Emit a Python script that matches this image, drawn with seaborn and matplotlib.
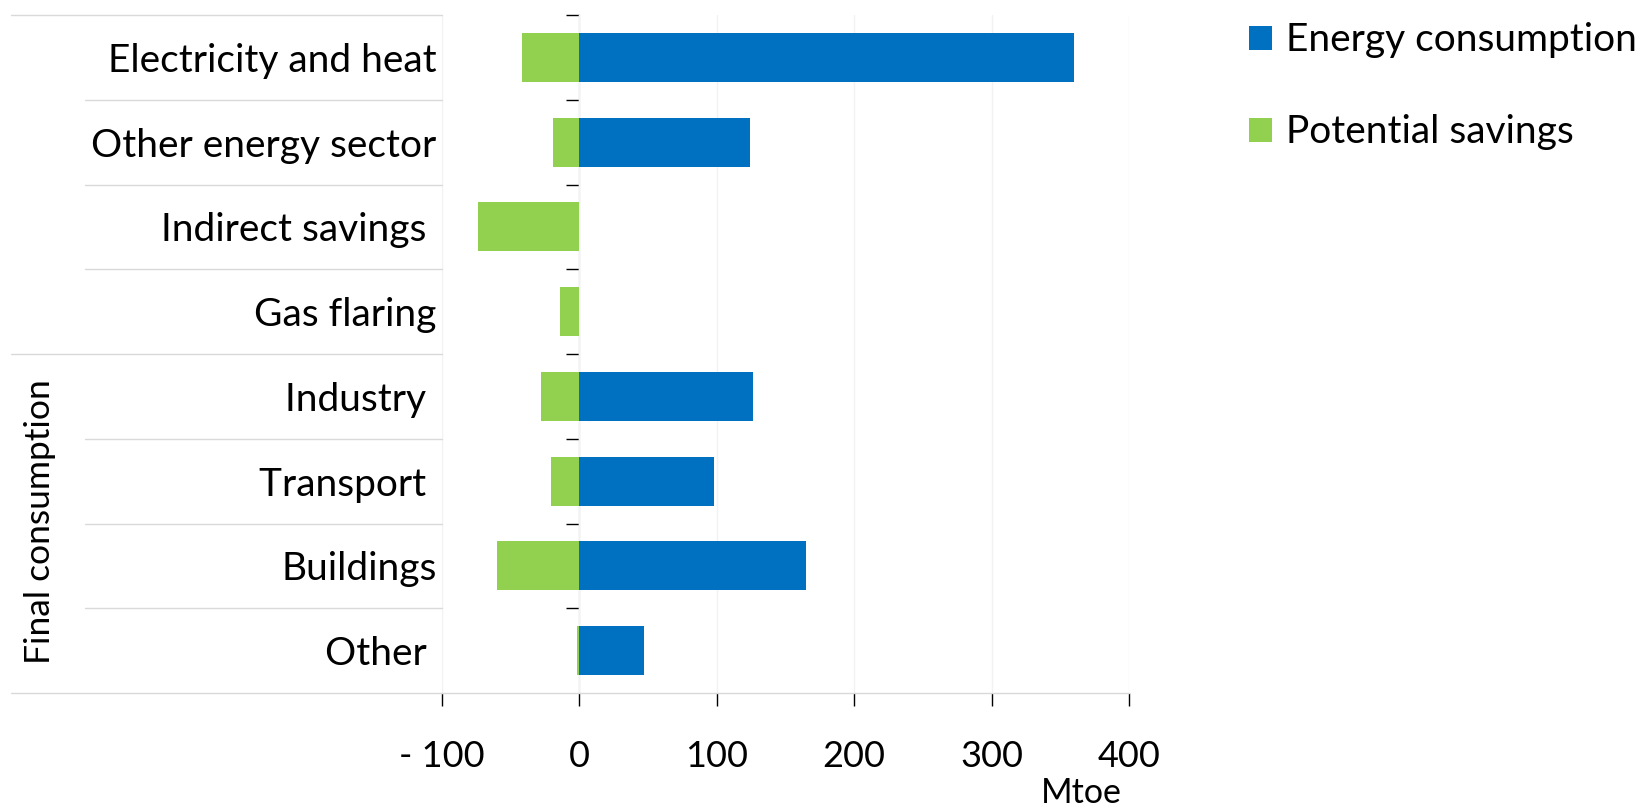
import matplotlib
matplotlib.use("Agg")
import matplotlib.pyplot as plt
import matplotlib.transforms as mtransforms
from matplotlib.patches import Patch
from matplotlib.ticker import FuncFormatter
import pandas as pd
import seaborn as sns

# Sector rows, top to bottom
sectors = ["Electricity and heat", "Other energy sector", "Indirect savings ", "Gas flaring",
           "Industry ", "Transport ", "Buildings", "Other "]
consumption = [360, 124, 0, 0, 126, 98, 165, 47]
savings = [-42, -19, -74, -14, -28, -21, -60, -2]
group_label = "Final consumption"
series_names = ["Energy consumption", "Potential savings"]
x_ticks = [-100, 0, 100, 200, 300, 400]
unit = "Mtoe"

BLUE = "#0070C0"
GREEN = "#92D050"
SEP = "#D9D9D9"

sns.set_theme(style="white")
plt.rcParams["font.family"] = ["Lato", "DejaVu Sans"]

df = pd.DataFrame({"sector": sectors, "consumption": consumption, "savings": savings})

W, H = 1644, 811
fig = plt.figure(figsize=(W / 100, H / 100), dpi=100)
ax = fig.add_axes([442 / W, 1 - 693 / H, 687 / W, 678 / H])

bar_kw = dict(orient="h", saturation=1, width=0.58, ax=ax, zorder=3,
              linewidth=0, edgecolor="none")
sns.barplot(data=df, y="sector", x="consumption", color=BLUE, **bar_kw)
sns.barplot(data=df, y="sector", x="savings", color=GREEN, **bar_kw)

ax.set_xlim(x_ticks[0], x_ticks[-1])
ax.set_ylim(len(sectors) - 0.5, -0.5)
ax.set_xticks(x_ticks)
ax.xaxis.set_major_formatter(FuncFormatter(lambda v, p: f"- {abs(v):.0f}" if v < 0 else f"{v:.0f}"))
ax.set_yticks(range(len(sectors)))
ax.set_yticklabels(sectors)

ax.grid(axis="x", color="#F2F2F2", lw=1)
ax.grid(axis="y", visible=False)
ax.set_axisbelow(True)
for s in ("top", "right", "left"):
    ax.spines[s].set_visible(False)
ax.spines["bottom"].set_color(SEP)
ax.spines["bottom"].set_linewidth(1)

ax.tick_params(axis="x", length=9.5, width=1, color="black", direction="out", pad=24,
               labelsize=26, labelcolor="black", bottom=True)
ax.tick_params(axis="y", length=0, pad=4, labelsize=28, labelcolor="black")
ax.set_ylabel("")
ax.set_xlabel(unit, fontsize=24.5, color="black")
ax.xaxis.label.set_ha("right")
ax.xaxis.label.set_va("center")
ax.xaxis.set_label_coords(0.9898, -0.1475)

# Row separators in the label area (group boundaries extend further left)
boundaries = [i - 0.5 for i in range(len(sectors) + 1)]
group_edges = {-0.5, 3.5, len(sectors) - 0.5}
trans = mtransforms.blended_transform_factory(ax.transAxes, ax.transData)
for b in boundaries:
    start = (11.5 - 442) / 687 if b in group_edges else (85 - 442) / 687
    ax.plot([start, 0], [b, b], transform=trans, color=SEP, lw=1, clip_on=False, zorder=1)

# Zero line carrying the category boundary ticks
zero_frac = (0 - x_ticks[0]) / (x_ticks[-1] - x_ticks[0])
sec = ax.secondary_yaxis(zero_frac)
sec.set_yticks(boundaries[:-1])
sec.set_yticklabels([])
sec.tick_params(length=9.5, width=1, color="black", direction="out")
sec.spines["left"].set_color(SEP)
sec.spines["left"].set_linewidth(1)

fig.text(40 / W, 1 - 522 / H, group_label, rotation=90, ha="center", va="center",
         fontsize=25.5, color="black")

handles = [Patch(facecolor=BLUE, edgecolor="none"), Patch(facecolor=GREEN, edgecolor="none")]
fig.legend(handles=handles, labels=series_names, loc="upper left",
           bbox_to_anchor=(1249 / W, 1 - 22.5 / H), frameon=False, fontsize=28,
           handlelength=0.59, handleheight=0.59, handletextpad=0.36,
           labelspacing=1.44, borderpad=0, borderaxespad=0, labelcolor="black")

fig.savefig("out.png", dpi=100)
